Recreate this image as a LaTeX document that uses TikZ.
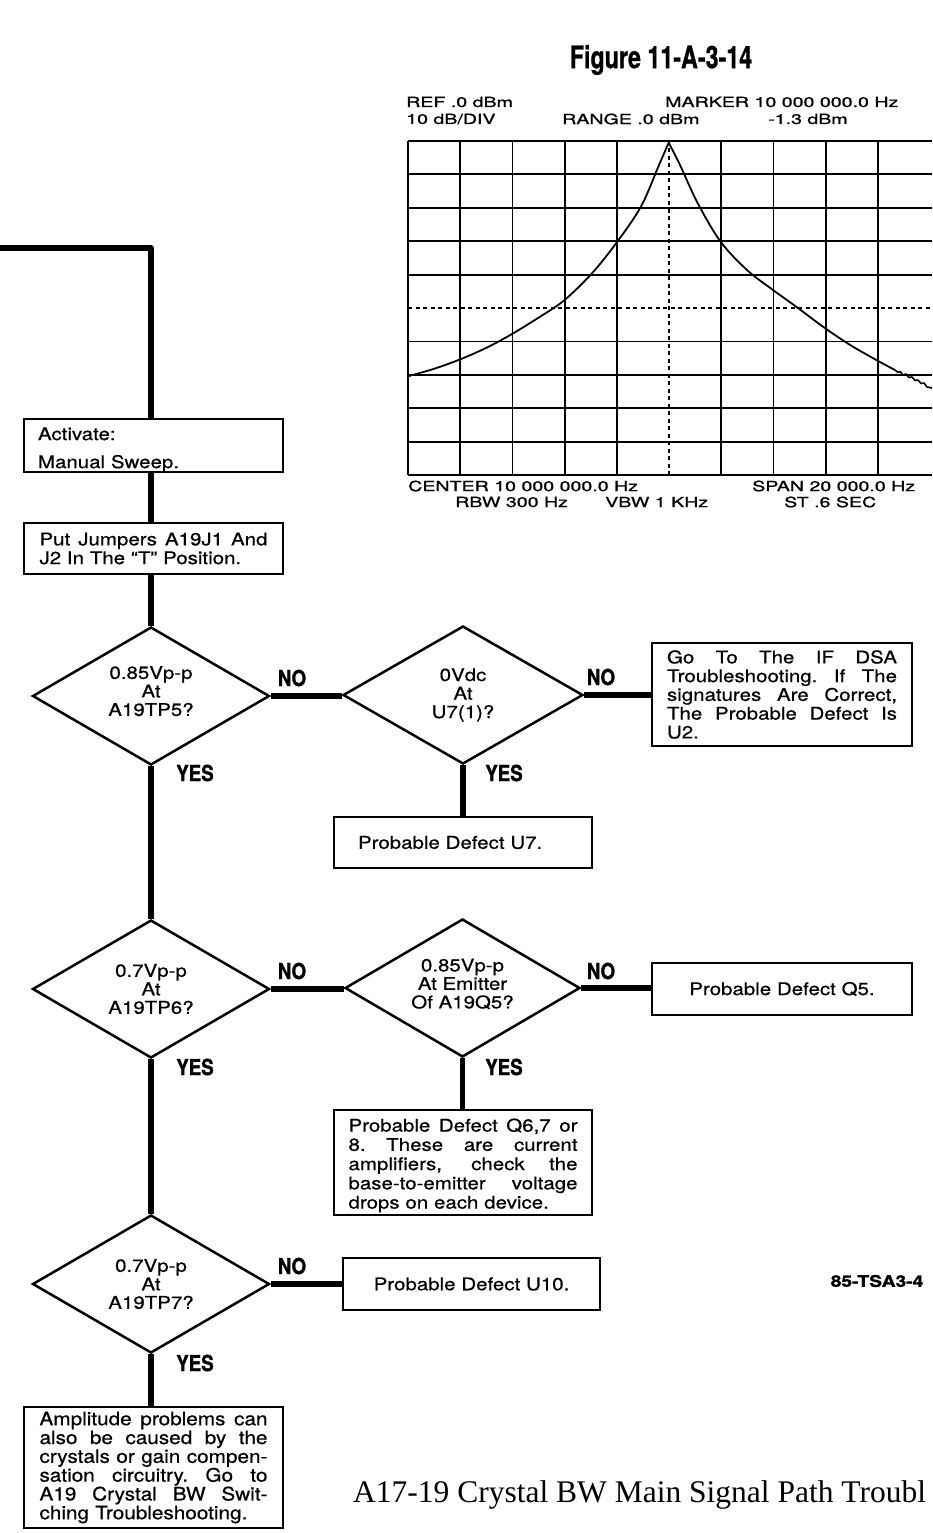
\documentclass[tikz,border=0pt]{standalone}
\usepackage{fontspec}
\setmainfont{TeX Gyre Heros}
\newfontfamily\flowfont{TeX Gyre Heros}[FakeStretch=1.17,FakeBold=0.6]
\newfontfamily\ampfont{TeX Gyre Heros}[FakeStretch=1.12,FakeBold=0.6]
\newfontfamily\plotfont{TeX Gyre Heros}[FakeStretch=1.4,FakeBold=1]
\newfontfamily\labfont{TeX Gyre Heros}[FakeStretch=0.85,FakeBold=1.2]
\newfontfamily\titlefont{TeX Gyre Heros}[FakeStretch=0.75,FakeBold=0.8]
\newfontfamily\codefont{TeX Gyre Heros}[FakeStretch=1.2,FakeBold=1.5]
\newfontfamily\capfont{Liberation Serif}
\usetikzlibrary{shapes.geometric}
\newcommand\jl[2]{\leavevmode\hbox to #1{\spaceskip=0.278em plus 1fil\relax\xspaceskip=\spaceskip #2}}
\newcommand\flowtext{\flowfont\fontsize{17.5}{18.75}\selectfont\frenchspacing}
\newcommand\plottext{\plotfont\fontsize{14}{14}\selectfont}
\begin{document}
\begin{tikzpicture}[x=1pt,y=-1pt,
  conn/.style={line width=5.5pt, line join=round},
  fbox/.style={draw, line width=2.6pt, inner sep=0pt, font=\flowtext},
  dia/.style={diamond, aspect=2, draw, line width=2.5pt, inner sep=0pt,
    minimum width=237pt, minimum height=138pt, font=\flowfont\fontsize{17.5}{18.5}\selectfont, align=center},
  yn/.style={font=\labfont\bfseries\fontsize{22}{22}\selectfont, inner sep=0pt},
  gridline/.style={line width=1.8pt},
  dashline/.style={line width=1.8pt, dash pattern=on 4pt off 3.5pt},
  plab/.style={font=\plottext, inner sep=0pt, anchor=west},
]
\clip (0,0) rectangle (932,1533);
\fill[white] (0,0) rectangle (932,1533);

% ---------- title ----------
\node[font=\titlefont\bfseries\fontsize{31}{31}\selectfont, inner sep=0pt] (title) at (661,60) {Figure 11-A-3-14};

% ---------- spectrum plot ----------
\foreach \i in {0,1,2,3,4,6,7,8,9}
  \draw[gridline] ({408+52.2*\i},141) -- ({408+52.2*\i},475);
\foreach \j in {0,1,2,3,4,6,7,8,9,10}
  \draw[gridline] (408,{141+33.4*\j}) -- (932,{141+33.4*\j});
\draw[dashline] (668.7,141) -- (668.7,475);
\draw[dashline] (408,308) -- (932,308);
\draw[line width=1.8pt] plot[smooth, tension=0.55] coordinates {
  (409,376) (435,368.5) (461,359) (487,347.5) (512,334) (538,318) (564,300.5)
  (591.7,273.6) (616,243.4) (641,206.5) (659,165) (668.7,142.7)};
\draw[line width=1.8pt] plot[smooth, tension=0.55] coordinates {
  (668.7,142.7) (680,165) (697.6,203) (720.6,241.7) (747,270) (773,290)
  (796.6,307) (824.8,328) (851,345.5) (877.8,360.8) (895,370)};
\draw[line width=1.6pt, line join=round] (895,370) -- (898,372.5) -- (900,371.5) -- (903,375) -- (906,374) -- (909,377.5)
  -- (912,377) -- (915,380.5) -- (918,380) -- (921,383.5) -- (924,383) -- (927,387) -- (932,388);

\node[plab] (ref) at (406,102) {REF .0 dBm};
\node[plab] (div) at (406,119) {10 dB/DIV};
\node[plab] (range) at (562,119) {RANGE .0 dBm};
\node[plab] (marker) at (665,102) {MARKER 10 000 000.0 Hz};
\node[plab] (mval) at (768,119) {-1.3 dBm};
\node[plab] (center) at (408,486) {CENTER 10 000 000.0 Hz};
\node[plab] (rbw) at (455,502) {RBW 300 Hz};
\node[plab] (vbw) at (605,502) {VBW 1 KHz};
\node[plab] (span) at (752,486) {SPAN 20 000.0 Hz};
\node[plab] (st) at (784,502) {ST .6 SEC};

% ---------- flowchart ----------
\coordinate (start) at (0,248);
\node[fbox, minimum width=259pt, minimum height=51pt, text width=231pt, align=left,
  font=\flowfont\fontsize{17.5}{28}\selectfont] (act) at (153.5,445.5) {\rule{0pt}{21pt}Activate:\\Manual Sweep.};
\node[fbox, minimum width=259pt, minimum height=51pt, text width=228pt, align=left] (jump) at (153.5,548.5)
  {\jl{228pt}{Put Jumpers A19J1 And}\\J2 In The “T” Position.};

\node[dia] (d1) at (151,696) {0.85Vp-p\\At\\A19TP5?\rule[-10pt]{0pt}{0pt}};
\node[dia, minimum width=240pt] (d2) at (463,695) {0Vdc\\At\\U7(1)?};
\node[fbox, minimum width=260pt, minimum height=103pt, text width=230pt, align=left] (ifdsa) at (782,694.5)
  {\jl{230pt}{Go To The IF DSA}\\\jl{230pt}{Troubleshooting. If The}\\\jl{230pt}{signatures Are Correct,}\\\jl{230pt}{The Probable Defect Is}\\U2.};
\node[fbox, minimum width=258pt, minimum height=51pt, text width=210pt, align=left] (u7) at (463,842.5) {Probable Defect U7.};

\node[dia] (d3) at (151,989) {0.7Vp-p\\At\\A19TP6?};
\node[dia, minimum width=235pt] (d4) at (462.5,988) {0.85Vp-p\\At Emitter\\Of A19Q5?\rule[-9pt]{0pt}{0pt}};
\node[fbox, minimum width=260pt, minimum height=52pt, text width=230pt, align=center] (q5) at (782,989) {Probable Defect Q5.};
\node[fbox, minimum width=258pt, minimum height=105pt, text width=229pt, align=left,
  font=\flowfont\fontsize{17.5}{19.25}\selectfont] (q6) at (463,1162.5)
  {\leavevmode\rule{0pt}{19pt}\jl{229pt}{Probable Defect Q6,7 or}\\\jl{229pt}{8. These are current}\\\jl{229pt}{amplifiers, check the}\\\jl{229pt}{base-to-emitter voltage}\\drops on each device.};

\node[dia] (d5) at (151,1284) {0.7Vp-p\\At\\A19TP7?};
\node[fbox, minimum width=257pt, minimum height=52pt, text width=230pt, align=center] (u10) at (471.5,1284) {Probable Defect U10.};
\node[fbox, minimum width=259pt, minimum height=121pt, text width=228pt, align=left,
  font=\ampfont\fontsize{18.5}{18.8}\selectfont] (amp) at (153.5,1467.5)
  {\jl{228pt}{Amplitude problems can}\\\jl{228pt}{also be caused by the}\\\jl{228pt}{crystals or gain compen-}\\\jl{228pt}{sation circuitry. Go to}\\\jl{228pt}{A19 Crystal BW Swit-}\\ching Troubleshooting.};

% connectors
\draw[conn] (start) -| (act.north -| d1.north);
\draw[conn] (act.south -| d1.north) -- (jump.north -| d1.north);
\draw[conn] (jump.south -| d1.north) -- (d1.north);
\draw[conn] (d1.east) -- (d1.east -| d2.west);
\draw[conn] (d2.east) -- (d2.east -| ifdsa.west);
\draw[conn] (d2.south) -- (d2.south |- u7.north);
\draw[conn] (d1.south) -- (d3.north);
\draw[conn] (d3.east) -- (d3.east -| d4.west);
\draw[conn] (d4.east) -- (d4.east -| q5.west);
\draw[conn] (d4.south) -- (d4.south |- q6.north);
\draw[conn] (d3.south) -- (d5.north);
\draw[conn] (d5.east) -- (d5.east -| u10.west);
\draw[conn] (d5.south) -- (d5.south |- amp.north);

% YES / NO labels
\node[yn] (no1) at (292,678) {NO};
\node[yn] (no2) at (601,677) {NO};
\node[yn] (no3) at (292,971) {NO};
\node[yn] (no4) at (601,971) {NO};
\node[yn] (no5) at (292,1266) {NO};
\node[yn] (yes1) at (195,773) {YES};
\node[yn] (yes2) at (504,773) {YES};
\node[yn] (yes3) at (195,1067) {YES};
\node[yn] (yes4) at (504,1067) {YES};
\node[yn] (yes5) at (195,1363) {YES};

% code and caption
\node[font=\codefont\bfseries\fontsize{16}{16}\selectfont, inner sep=0pt] (code) at (877,1281) {85-TSA3-4};
\node[anchor=base west, font=\capfont\fontsize{31.5}{32}\selectfont, inner sep=0pt] (cap) at (353,1502)
  {A17-19 Crystal BW Main Signal Path Troubl};
\end{tikzpicture}
\end{document}
